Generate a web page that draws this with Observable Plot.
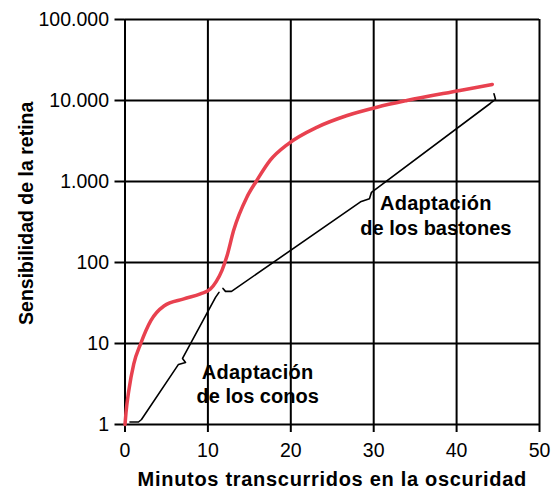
<!DOCTYPE html>
<html>
<head>
<meta charset="utf-8">
<script src="https://cdn.jsdelivr.net/npm/d3@7"></script>
<script src="https://cdn.jsdelivr.net/npm/@observablehq/plot@0.6"></script>
<style>
  html, body { margin: 0; padding: 0; background: white; }
  svg g[aria-label$="tick"] path, svg .tick line { stroke-width: 2px; }
</style>
</head>
<body>
<div id="chart"></div>
<script>
// Tick values
const xTicks = [0, 10, 20, 30, 40, 50];
const yTicks = [1, 10, 100, 1000, 10000, 100000];

// Red curve: sensitivity of the retina vs minutes in darkness
const curveMinutes = [0, 0.12, 0.46, 1.06, 1.9, 3.1, 4.7, 7.1, 9.1, 10.3, 11.0, 11.7, 12.3, 13.1, 14.7, 15.9, 17.5, 19.7, 23.2, 26.8, 30.4, 34, 40.4, 44.3];
const curveSensitivity = [1, 1.4, 2.63, 5.6, 10, 19, 29, 35.5, 41, 47, 58, 80, 120, 248, 640, 1030, 1820, 2920, 4700, 6530, 8270, 10000, 13300, 15800];

// Brace outlines (minutes, sensitivity)
const conesBraceMinutes = [0.60, 1.63, 1.99, 6.45, 7.30, 6.94, 10.92, 11.34];
const conesBraceSensitivity = [1.074, 1.074, 1.153, 5.52, 5.84, 6.54, 37.1, 42.8];
const rodsBraceMinutes = [11.82, 12.12, 12.85, 28.41, 29.49, 29.73, 44.09, 44.69, 44.51];
const rodsBraceSensitivity = [47.9, 44.0, 44.0, 561, 611, 735, 9250, 10360, 12110];

// Annotation labels
const labelTexts = ["Adaptación\nde los conos", "Adaptación\nde los bastones"];
const labelMinutes = [16, 37.5];
const labelSensitivity = [3.25, 390];

const xTitle = "Minutos transcurridos en la oscuridad";
const yTitle = "Sensibilidad de la retina";

const curve = curveMinutes.map((m, i) => ({m, s: curveSensitivity[i]}));
const cones = conesBraceMinutes.map((m, i) => ({m, s: conesBraceSensitivity[i]}));
const rods = rodsBraceMinutes.map((m, i) => ({m, s: rodsBraceSensitivity[i]}));
const labels = labelTexts.map((t, i) => ({t, m: labelMinutes[i], s: labelSensitivity[i]}));

const fmt = d => d3.format(",")(d).replace(/,/g, ".");

const chart = Plot.plot({
  width: 552,
  height: 488,
  marginLeft: 124.5,
  marginRight: 13,
  marginTop: 19,
  marginBottom: 64,
  style: {fontFamily: "Liberation Sans, Arial, sans-serif", fontSize: "19.5px", background: "white", color: "black", overflow: "visible"},
  x: {domain: [0, 50], ticks: xTicks, tickSize: 8, tickPadding: 11, label: null, tickFormat: d => String(d)},
  y: {type: "log", domain: [1, 100000], ticks: yTicks, tickSize: 10, tickPadding: 6, label: null, tickFormat: fmt},
  marks: [
    Plot.ruleX(xTicks, {stroke: "black", strokeWidth: 2}),
    Plot.ruleY(yTicks, {stroke: "black", strokeWidth: 2}),
    Plot.line(curve, {x: "m", y: "s", stroke: "#e8414f", strokeWidth: 3.5, curve: "monotone-x"}),
    Plot.line(cones, {x: "m", y: "s", stroke: "black", strokeWidth: 1.6, curve: "linear"}),
    Plot.line(rods, {x: "m", y: "s", stroke: "black", strokeWidth: 1.6, curve: "linear"}),
    Plot.text(labels, {x: "m", y: "s", text: "t", fontSize: 20, fontWeight: "bold", lineAnchor: "middle", lineHeight: 1.22, textAnchor: "middle", fill: "black"}),
    Plot.text([xTitle], {frameAnchor: "bottom", lineAnchor: "top", dy: 46.8, fontSize: 20, fontWeight: "bold", fill: "black", textAnchor: "middle"}),
    Plot.text([yTitle], {frameAnchor: "left", rotate: -90, lineAnchor: "top", dx: -105.7, dy: -8.7, fontSize: 19.5, fontWeight: "bold", fill: "black", textAnchor: "middle"})
  ]
});
d3.select(chart).selectAll("text")
  .filter(function() { return this.textContent === xTitle; })
  .style("letter-spacing", "0.7px");
d3.select(chart).selectAll("tspan, text")
  .filter(function() { return this.textContent === "Adaptación"; })
  .style("letter-spacing", "0.3px");
document.getElementById("chart").appendChild(chart);
</script>
</body>
</html>
